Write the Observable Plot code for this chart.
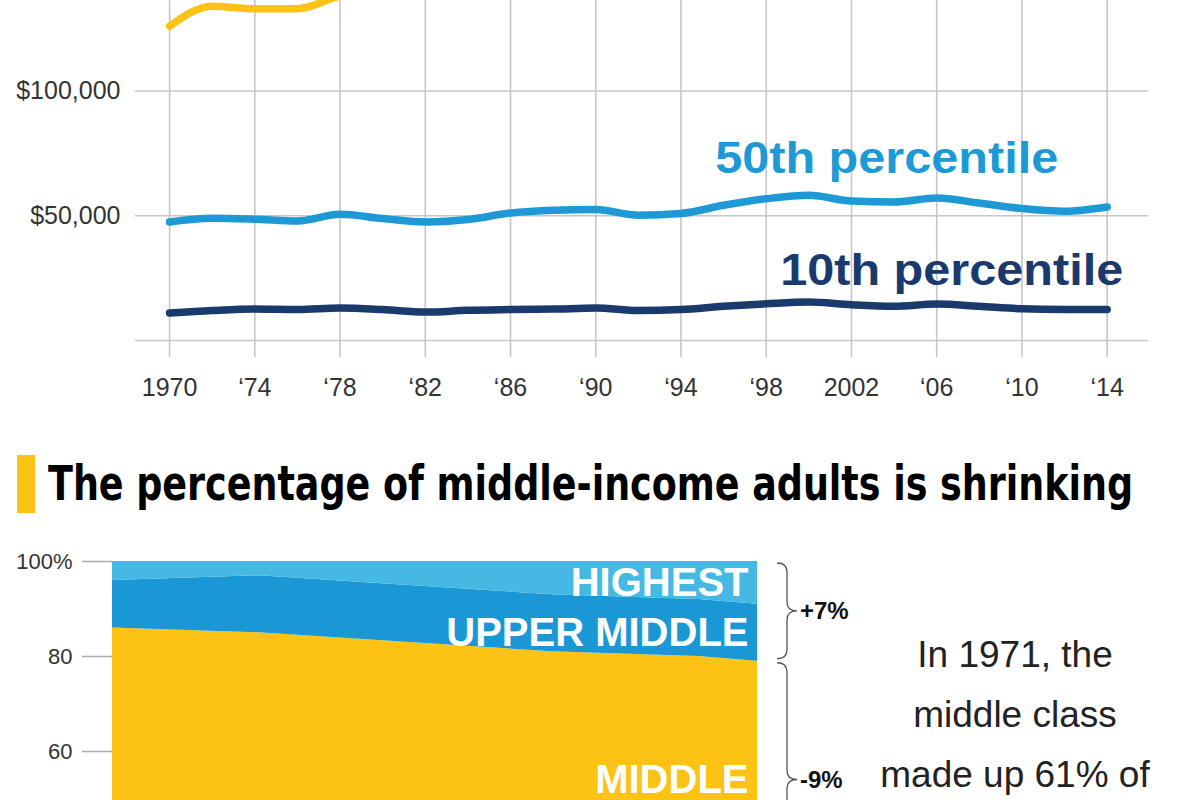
<!DOCTYPE html>
<html><head><meta charset="utf-8">
<script src="https://cdn.jsdelivr.net/npm/d3@7"></script>
<script src="https://cdn.jsdelivr.net/npm/@observablehq/plot@0.6"></script>
<style>
html,body{margin:0;padding:0;background:#fff;overflow:hidden}
body{width:1200px;height:800px;position:relative;font-family:"Liberation Sans",Arial,sans-serif}
#top{position:absolute;left:0;top:-159px}
#area{position:absolute;left:0;top:540px}
#bar{position:absolute;left:17px;top:455px;width:18px;height:58px;background:#fdc314}
#title{position:absolute;left:48px;top:459px;white-space:nowrap;font-family:"Liberation Sans Narrow","DejaVu Sans Condensed","Liberation Sans",sans-serif;font-weight:bold;font-size:48px;line-height:48px;color:#000;transform-origin:0 0}
#note{position:absolute;left:865px;top:625px;width:300px;text-align:center;font-size:37px;line-height:60px;color:#222}
</style></head><body>
<div id="top"></div>
<div id="bar"></div>
<div id="title">The percentage of middle-income adults is shrinking</div>
<div id="area"></div>
<div id="note">In 1971, the<br>middle class<br>made up 61% of</div>
<script>
// ---- Top chart data (household income by percentile) ----
const years = [1970,1972,1974,1976,1978,1980,1982,1984,1986,1988,1990,1992,1994,1996,1998,2000,2002,2004,2006,2008,2010,2012,2014];
const p90 = [126000,134000,133000,133000,138000,139500,141000,146000,151000,155000,154000,153000,159000,163000,169000,174000,171000,170000,174000,172000,168000,168000,170000];
const p50 = [47500,49000,48600,47900,50600,48900,47500,48500,51100,52200,52500,50200,50900,54200,56800,58200,55900,55500,57100,55100,52900,51800,53500];
const p10 = [11000,12000,12600,12400,13000,12400,11400,12100,12400,12600,13000,12000,12400,13700,14700,15400,14300,13700,14600,13700,12700,12400,12400];
const seriesNames = ["90th percentile","50th percentile","10th percentile"];
const seriesColors = ["#fdc314","#1d9ad6","#1a3a6e"];
const xTickYears = [1970,1974,1978,1982,1986,1990,1994,1998,2002,2006,2010,2014];
const xTickLabels = ["1970","\u201874","\u201878","\u201882","\u201886","\u201890","\u201894","\u201898","2002","\u201806","\u201810","\u201814"];
const yGrid = [0,50000,100000];
const yLabelTicks = [50000,100000];

// ---- Bottom chart data (share of adults by income tier, %) ----
const tierYears = [1971,1981,1991,2001,2011,2015];
const lowest      = [16,17,18,18,20,20];
const lowerMiddle = [9,9,9,9,9,9];
const middle      = [61,59,56,54,51,50];
const upperMiddle = [10,12,12,12,12,12];
const highest     = [4,3,5,7,8,9];
const tiers = ["Lowest","Lower middle","Middle","Upper middle","Highest"];
const tierLabels = ["","","MIDDLE","UPPER MIDDLE","HIGHEST"];
const tierColors = ["#f3dc8c","#f9cf55","#fdc314","#1a98d5","#45b8e3"];
const pctTicks = [60,80,100];
const braceLabels = ["+7%","-9%"];

const font = "'Liberation Sans', Arial, sans-serif";

// ---------- Top chart ----------
const lineData = [p90,p50,p10].flatMap((vals,k)=>years.map((yr,i)=>({year:yr,value:vals[i],series:seriesNames[k]})));
const xLabel = new Map(xTickYears.map((y,i)=>[y,xTickLabels[i]]));
const last = years.length-1;
const lineLabels = [
  {year:years[last], value:p50[last], label:"50th percentile", color:seriesColors[1]},
  {year:years[last], value:p10[last], label:"10th percentile", color:seriesColors[2]}
];

const topChart = Plot.plot({
  width:1200, height:576,
  marginLeft:135, marginRight:52, marginTop:0, marginBottom:60,
  x:{domain:[1968.4,2015.94], axis:null},
  y:{domain:[-6800,200000], axis:null},
  color:{domain:seriesNames, range:seriesColors},
  style:{fontFamily:font, background:"transparent", overflow:"visible"},
  marks:[
    Plot.ruleX(xTickYears,{stroke:"#c6c6c6", strokeWidth:1.6}),
    Plot.ruleY(yGrid,{stroke:"#c6c6c6", strokeWidth:1.6}),
    Plot.axisX(xTickYears,{anchor:"bottom", label:null, tickSize:0, tickPadding:21, tickFormat:d=>xLabel.get(d), fontSize:25, fill:"#333"}),
    Plot.axisY(yLabelTicks,{anchor:"left", label:null, tickSize:0, tickPadding:15, tickFormat:d=>"$"+d3.format(",")(d), fontSize:25, fill:"#333"}),
    Plot.line(lineData,{x:"year", y:"value", stroke:"series", strokeWidth:7.5, curve:"monotone-x", strokeLinecap:"round", strokeLinejoin:"round"}),
    Plot.text(lineLabels.slice(0,1),{x:"year", y:"value", text:"label", fill:"color", textAnchor:"end", dx:-49, dy:-48, fontSize:44, fontWeight:"bold"}),
    Plot.text(lineLabels.slice(1),{x:"year", y:"value", text:"label", fill:"color", textAnchor:"end", dx:16, dy:-39, fontSize:44, fontWeight:"bold"})
  ]
});
document.getElementById("top").append(topChart);
topChart.querySelectorAll("text").forEach(t=>{
  if (t.textContent.endsWith("percentile")) { t.setAttribute("textLength","343"); t.setAttribute("lengthAdjust","spacingAndGlyphs"); }
});

// ---------- Bottom stacked area ----------
const shares = [lowest,lowerMiddle,middle,upperMiddle,highest];
const areaData = tiers.flatMap((t,k)=>tierYears.map((yr,i)=>({year:yr, tier:t, share:shares[k][i]})));
const li = tierYears.length-1;
let cum = 0;
const bandLabels = [];
const bandBounds = {};
tiers.forEach((t,k)=>{
  const v = shares[k][li];
  if (tierLabels[k]) bandLabels.push({year:tierYears[li], mid:cum+v/2, label:tierLabels[k]});
  bandBounds[t] = [cum, cum+v];
  cum += v;
});
const braces = [
  {from:bandBounds["Upper middle"][0], to:100, label:braceLabels[0]},
  {from:bandBounds["Middle"][0], to:bandBounds["Middle"][1], label:braceLabels[1]}
];

function braceMark(index, scales) {
  const g = d3.create("svg:g");
  const x0 = scales.x(tierYears[li]) + 20, w = 20;
  braces.forEach(b=>{
    const yt = scales.y(b.to) + 2, yb = scales.y(b.from) - 2, ym = (yt+yb)/2, q = 9, xm = x0 + w/2;
    const p = `M${x0},${yt} Q${xm},${yt} ${xm},${yt+q} L${xm},${ym-q} Q${xm},${ym} ${x0+w},${ym} Q${xm},${ym} ${xm},${ym+q} L${xm},${yb-q} Q${xm},${yb} ${x0},${yb}`;
    g.append("path").attr("d",p).attr("fill","none").attr("stroke","#555").attr("stroke-width",1.3);
    g.append("text").attr("x",x0+w+3).attr("y",ym).attr("dy","0.35em").attr("text-anchor","start")
      .attr("font-size",24).attr("font-weight","bold").attr("fill","#111").text(b.label);
  });
  return g.node();
}

const areaChart = Plot.plot({
  width:1200, height:516,
  marginLeft:112, marginRight:443, marginTop:21, marginBottom:20,
  x:{domain:[1971,2015], axis:null},
  y:{domain:[0,100], axis:null},
  color:{domain:tiers, range:tierColors},
  style:{fontFamily:font, background:"transparent", overflow:"visible"},
  marks:[
    Plot.areaY(areaData,{x:"year", y:"share", fill:"tier", order:tiers}),
    Plot.axisY(pctTicks,{anchor:"left", label:null, tickSize:30, tickPadding:10, strokeWidth:1.5, stroke:"#aaa", fill:"#333", fontSize:22, tickFormat:d=>d===100?"100%":String(d)}),
    Plot.text(bandLabels,{x:"year", y:"mid", text:"label", textAnchor:"end", dx:-9, fill:"white", fontSize:40, fontWeight:"bold"}),
    braceMark
  ]
});
document.getElementById("area").append(areaChart);

// fit title width
const title = document.getElementById("title");
const tw = title.getBoundingClientRect().width;
title.style.transform = `scaleX(${1085/tw})`;
</script>
</body></html>
